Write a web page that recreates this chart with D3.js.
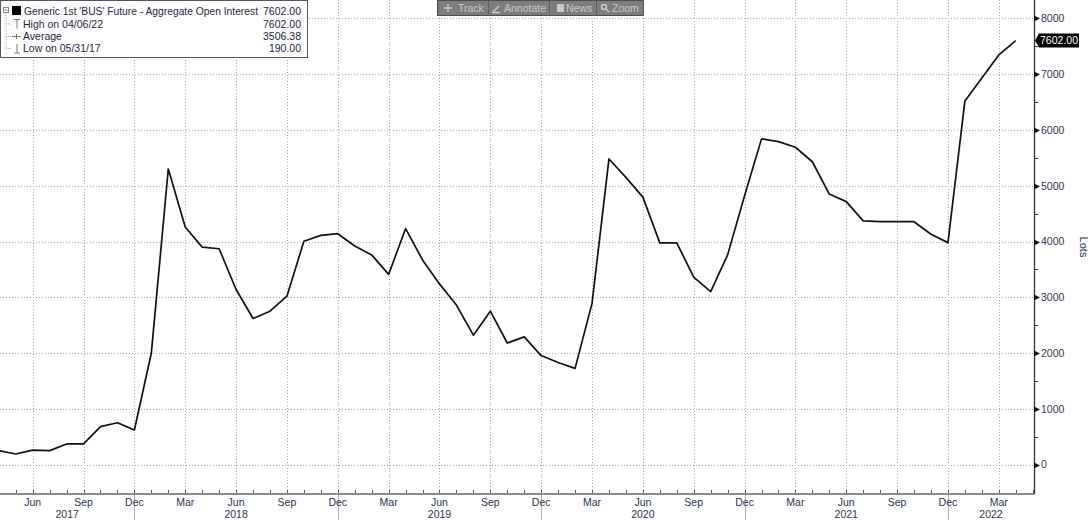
<!DOCTYPE html>
<html>
<head>
<meta charset="utf-8">
<script src="https://cdn.jsdelivr.net/npm/d3@7"></script>
<style>
body{margin:0;background:#fff;}
svg{display:block;font-family:"Liberation Sans Narrow","Liberation Sans",Arial,sans-serif;}
</style>
</head>
<body>
<svg id="chart"></svg>
<script>
//monthly points, first one is Apr 2017
var months = ["2017-04","2017-05","2017-06","2017-07","2017-08","2017-09","2017-10","2017-11","2017-12",
    "2018-01","2018-02","2018-03","2018-04","2018-05","2018-06","2018-07","2018-08","2018-09","2018-10","2018-11","2018-12",
    "2019-01","2019-02","2019-03","2019-04","2019-05","2019-06","2019-07","2019-08","2019-09","2019-10","2019-11","2019-12",
    "2020-01","2020-02","2020-03","2020-04","2020-05","2020-06","2020-07","2020-08","2020-09","2020-10","2020-11","2020-12",
    "2021-01","2021-02","2021-03","2021-04","2021-05","2021-06","2021-07","2021-08","2021-09","2021-10","2021-11","2021-12",
    "2022-01","2022-02","2022-03","2022-04"];

var openInterest = [250,190,260,250,370,370,680,750,620,
    2000,5300,4260,3900,3870,3140,2620,2750,3020,4005,4110,4140,
    3920,3760,3410,4230,3670,3240,2860,2320,2750,2180,2290,1955,
    1830,1725,2890,5480,5150,4795,3975,3975,3360,3100,3760,4820,
    5840,5790,5690,5430,4850,4715,4370,4355,4355,4355,4130,3980,
    6520,6930,7345,7602];

var yTicks = [0,1000,2000,3000,4000,5000,6000,7000,8000];
var yMinorTicks = [500,1500,2500,3500,4500,5500,6500,7500];
var yearLabels = ["2017","2018","2019","2020","2021","2022"];
var quarterMonths = ["Mar","Jun","Sep","Dec"];

var legendLabels = ["Generic 1st 'BUS' Future - Aggregate Open Interest","High on 04/06/22","Average","Low on 05/31/17"];
var legendValues = ["7602.00","7602.00","3506.38","190.00"];
var toolbarItems = ["Track","Annotate","News","Zoom"];
var axisTitle = "Lots";

var parseMonth = d3.timeParse("%Y-%m");
var monthName = d3.timeFormat("%b");
var fontSize = "10.5px";

var initChart = function(target)
{
    var screen = {width:1092, height:520};
    //plot area, the value axis sits on the right edge
    var plot = {left:0, right:1034, top:0, bottom:494};

    var svg = d3.select(target)
        .attr("width",screen.width)
        .attr("height",screen.height);

    var xScale = d3.scaleLinear()
        .domain([0,61])
        .range([-1.2,1032.7]);

    var yScale = d3.scaleLinear()
        .domain([0,8000])
        .range([464.6,18.4]);

    var dates = months.map(parseMonth);
    var quarterIdx = [];
    var decIdx = [];
    dates.forEach(function(d,i)
    {
        if(quarterMonths.indexOf(monthName(d))>=0) quarterIdx.push(i);
        if(monthName(d)=="Dec") decIdx.push(i);
    });

    drawGrid(svg,plot,xScale,yScale,quarterIdx);
    drawLine(svg,xScale,yScale);
    drawXAxis(svg,plot,xScale,dates,quarterIdx,decIdx);
    drawYAxis(svg,plot,yScale);
    drawLegend(svg);
    drawToolbar(svg);
}

var drawGrid = function(svg,plot,xScale,yScale,quarterIdx)
{
    var grid = svg.append("g")
        .attr("stroke","#a8a8a8")
        .attr("stroke-width",1)
        .attr("stroke-dasharray","1,2");

    grid.selectAll(".hgrid")
        .data(yTicks)
        .enter()
        .append("line")
        .attr("x1",plot.left)
        .attr("x2",plot.right)
        .attr("y1",function(v){return Math.round(yScale(v))+0.5;})
        .attr("y2",function(v){return Math.round(yScale(v))+0.5;});

    grid.selectAll(".vgrid")
        .data(quarterIdx)
        .enter()
        .append("line")
        .attr("x1",function(i){return Math.round(xScale(i))+0.5;})
        .attr("x2",function(i){return Math.round(xScale(i))+0.5;})
        .attr("y1",plot.top)
        .attr("y2",plot.bottom);
}

var drawLine = function(svg,xScale,yScale)
{
    var line = d3.line()
        .x(function(d,i){return xScale(i);})
        .y(function(d){return yScale(d);});

    svg.append("path")
        .datum(openInterest)
        .attr("d",line)
        .attr("fill","none")
        .attr("stroke","#111")
        .attr("stroke-width",1.7)
        .attr("stroke-linejoin","round");
}

var drawXAxis = function(svg,plot,xScale,dates,quarterIdx,decIdx)
{
    var axis = svg.append("g");

    //year separators hang below the axis at the Dec ticks
    axis.selectAll(".sep")
        .data(decIdx)
        .enter()
        .append("line")
        .attr("x1",function(i){return Math.round(xScale(i))+0.5;})
        .attr("x2",function(i){return Math.round(xScale(i))+0.5;})
        .attr("y1",plot.bottom)
        .attr("y2",520)
        .attr("stroke","#b0b0b0");

    axis.append("line")
        .attr("x1",plot.left)
        .attr("x2",plot.right)
        .attr("y1",plot.bottom)
        .attr("y2",plot.bottom)
        .attr("stroke","#8a8a8a")
        .attr("stroke-width",2);

    //small month ticks
    axis.selectAll(".mtick")
        .data(d3.range(1,62))
        .enter()
        .append("line")
        .attr("x1",function(i){return Math.round(xScale(i))+0.5;})
        .attr("x2",function(i){return Math.round(xScale(i))+0.5;})
        .attr("y1",plot.bottom-1)
        .attr("y2",plot.bottom-4)
        .attr("stroke","#555");

    axis.selectAll(".qlabel")
        .data(quarterIdx)
        .enter()
        .append("text")
        .attr("x",function(i){return xScale(i);})
        .attr("y",506)
        .attr("text-anchor","middle")
        .attr("font-size",fontSize)
        .attr("fill","#2a3450")
        .text(function(i){return monthName(dates[i]);});

    //year labels centred between the separators
    var edges = [plot.left].concat(decIdx.map(xScale)).concat([plot.right]);
    axis.selectAll(".ylabel")
        .data(yearLabels)
        .enter()
        .append("text")
        .attr("x",function(d,k){return (edges[k]+edges[k+1])/2;})
        .attr("y",518)
        .attr("text-anchor","middle")
        .attr("font-size",fontSize)
        .attr("fill","#2a3450")
        .text(function(d){return d;});
}

var drawYAxis = function(svg,plot,yScale)
{
    var axis = svg.append("g");

    axis.append("line")
        .attr("x1",plot.right+0.5)
        .attr("x2",plot.right+0.5)
        .attr("y1",plot.top)
        .attr("y2",plot.bottom)
        .attr("stroke","#333")
        .attr("stroke-width",1.3);

    axis.selectAll(".minor")
        .data(yMinorTicks)
        .enter()
        .append("line")
        .attr("x1",plot.right)
        .attr("x2",plot.right+4)
        .attr("y1",function(v){return Math.round(yScale(v))+0.5;})
        .attr("y2",function(v){return Math.round(yScale(v))+0.5;})
        .attr("stroke","#333");

    axis.selectAll(".major")
        .data(yTicks)
        .enter()
        .append("path")
        .attr("d",function(v)
        {
            var y = Math.round(yScale(v))+0.5;
            return "M"+plot.right+","+(y-3)+"L"+(plot.right+6)+","+y+"L"+plot.right+","+(y+3)+"Z";
        })
        .attr("fill","#111");

    axis.selectAll(".ylab")
        .data(yTicks)
        .enter()
        .append("text")
        .attr("x",plot.right+7)
        .attr("y",function(v){return yScale(v);})
        .attr("dy","0.36em")
        .attr("font-size",fontSize)
        .attr("fill","#2a3450")
        .text(function(v){return v;});

    //last value tag
    var ty = yScale(openInterest[openInterest.length-1]);
    var tag = axis.append("g");
    tag.append("path")
        .attr("d","M"+(plot.right+1)+","+ty+"L"+(plot.right+5)+","+(ty-7)+"L"+(plot.right+45)+","+(ty-7)+
            "L"+(plot.right+45)+","+(ty+7)+"L"+(plot.right+5)+","+(ty+7)+"Z")
        .attr("fill","#000");
    tag.append("text")
        .attr("x",plot.right+25)
        .attr("y",ty)
        .attr("dy","0.36em")
        .attr("text-anchor","middle")
        .attr("font-size","10px")
        .attr("textLength",38)
        .attr("lengthAdjust","spacingAndGlyphs")
        .attr("fill","#fff")
        .text(d3.format(".2f")(openInterest[openInterest.length-1]));

    axis.append("text")
        .attr("transform","translate(1080,247) rotate(90)")
        .attr("text-anchor","middle")
        .attr("font-size","11px")
        .attr("fill","#2a3450")
        .text(axisTitle);
}

var drawLegend = function(svg)
{
    var g = svg.append("g");
    g.append("rect")
        .attr("x",0.5).attr("y",0.5)
        .attr("width",307).attr("height",57)
        .attr("fill","#fff").attr("fill-opacity",0.9)
        .attr("stroke","#555");

    //tree connector on the left
    g.append("rect")
        .attr("x",3.5).attr("y",7.5).attr("width",5).attr("height",5)
        .attr("fill","#fff").attr("stroke","#888");
    g.append("line").attr("x1",4.5).attr("x2",7.5).attr("y1",10).attr("y2",10).attr("stroke","#777");
    g.append("line").attr("x1",6).attr("x2",6).attr("y1",13).attr("y2",49)
        .attr("stroke","#aaa").attr("stroke-dasharray","1,1");

    var rowY = [11,24,36.5,48.5];
    rowY.slice(1).forEach(function(y)
    {
        g.append("line").attr("x1",6).attr("x2",11).attr("y1",y).attr("y2",y)
            .attr("stroke","#aaa").attr("stroke-dasharray","1,1");
    });

    g.append("rect").attr("x",12).attr("y",6).attr("width",9).attr("height",9).attr("fill","#000");

    //high, average and low markers
    var ic = g.append("g").attr("stroke","#777").attr("fill","none");
    ic.append("path").attr("d","M14,"+(rowY[1]-4.5)+"h6M17,"+(rowY[1]-4.5)+"v9");
    ic.append("path").attr("d","M12,"+rowY[2]+"h9M16.5,"+(rowY[2]-2.5)+"v5");
    ic.append("path").attr("d","M14,"+(rowY[3]+4.5)+"h6M17,"+(rowY[3]+4.5)+"v-9");

    g.selectAll(".lname")
        .data(legendLabels)
        .enter()
        .append("text")
        .attr("x",function(d,i){return i==0?24:23;})
        .attr("y",function(d,i){return rowY[i];})
        .attr("dy","0.36em")
        .attr("font-size",fontSize)
        .attr("fill","#1e2740")
        .text(function(d){return d;})
        .filter(function(d,i){return i==0;})
        .attr("textLength",234)
        .attr("lengthAdjust","spacingAndGlyphs");

    g.selectAll(".lval")
        .data(legendValues)
        .enter()
        .append("text")
        .attr("x",301)
        .attr("y",function(d,i){return rowY[i];})
        .attr("dy","0.36em")
        .attr("text-anchor","end")
        .attr("font-size",fontSize)
        .attr("fill","#1e2740")
        .text(function(d){return d;});
}

var drawToolbar = function(svg)
{
    var g = svg.append("g");
    g.append("rect")
        .attr("x",437.5).attr("y",0.5)
        .attr("width",206).attr("height",15)
        .attr("fill","#7d7d7d")
        .attr("stroke","#4d4d4d");

    var itemX = [447,493,555,601];
    var sepX = [488,549,596];
    sepX.forEach(function(x)
    {
        g.append("line").attr("x1",x+0.5).attr("x2",x+0.5).attr("y1",1).attr("y2",15)
            .attr("stroke","#3e3e3e").attr("stroke-dasharray","1,1");
    });

    var ic = g.append("g").attr("stroke","#c9c9c9").attr("fill","none").attr("stroke-width",1.5);
    ic.append("path").attr("d","M444,8h8M448,4v8");
    ic.append("path").attr("d","M493,12l6,-6M492,12.5h8");
    g.append("rect").attr("x",557).attr("y",4).attr("width",7).attr("height",8).attr("fill","#c9c9c9");
    ic.append("circle").attr("cx",604).attr("cy",7).attr("r",2.5);
    ic.append("path").attr("d","M606,9l3,3");

    g.selectAll(".titem")
        .data(toolbarItems)
        .enter()
        .append("text")
        .attr("x",function(d,i){return itemX[i]+11;})
        .attr("y",8)
        .attr("dy","0.36em")
        .attr("font-size",fontSize)
        .attr("fill","#c9c9c9")
        .text(function(d){return d;});
}

initChart("#chart");
</script>
</body>
</html>
